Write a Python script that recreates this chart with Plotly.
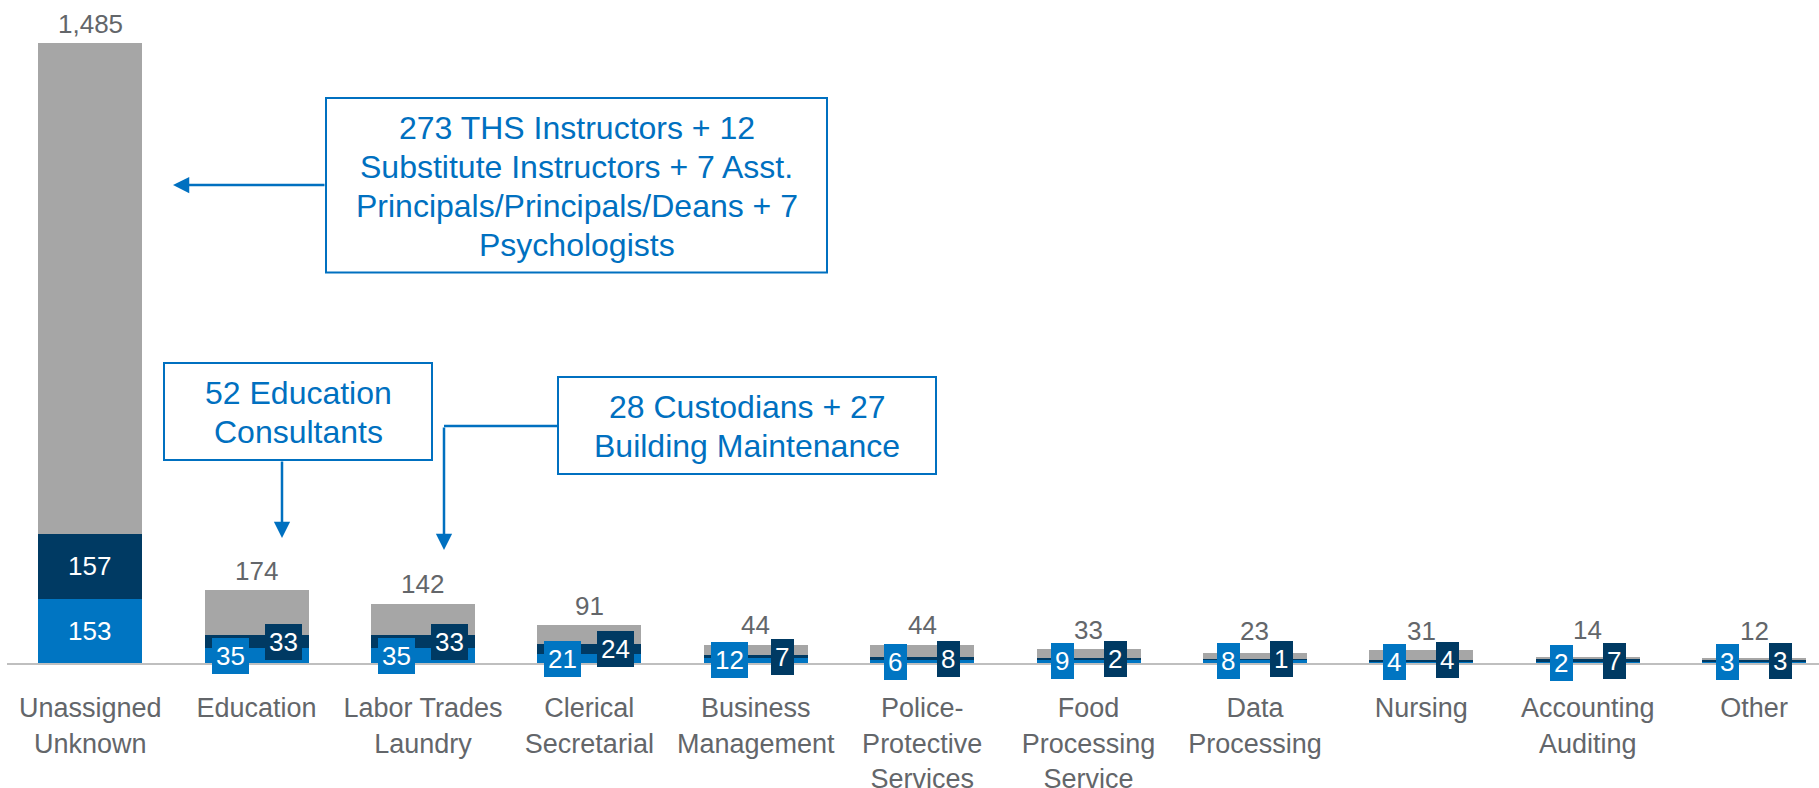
import plotly.graph_objects as go

# ---------------- data ----------------
categories = [
    "Unassigned<br>Unknown", "Education", "Labor Trades<br>Laundry",
    "Clerical<br>Secretarial", "Business<br>Management",
    "Police-<br>Protective<br>Services", "Food<br>Processing<br>Service",
    "Data<br>Processing", "Nursing", "Accounting<br>Auditing", "Other",
]
blue_vals = [153, 35, 35, 21, 12, 6, 9, 8, 4, 2, 3]
navy_vals = [157, 33, 33, 24, 7, 8, 2, 1, 4, 7, 3]
totals = [1485, 174, 142, 91, 44, 44, 33, 23, 31, 14, 12]
gray_vals = [t - b - n for t, b, n in zip(totals, blue_vals, navy_vals)]

callout_lines = [
    ["273 THS Instructors + 12", "Substitute Instructors + 7 Asst.",
     "Principals/Principals/Deans + 7", "Psychologists"],
    ["52 Education", "Consultants"],
    ["28 Custodians + 27", "Building Maintenance"],
]

# ---------------- style ----------------
BLUE = "#0075C2"
NAVY = "#003A63"
GRAY = "#A6A6A6"
TXT = "#63666A"
CALL = "#0070C0"
FONT = "Liberation Sans, Arial, sans-serif"

W, H = 1819, 788
ML, MR, MT, MB = 7, 0, 0, 125
PW, PH = W - ML - MR, H - MT - MB
YMAX = 1588

fig = go.Figure()
for name, vals, col in [("blue", blue_vals, BLUE), ("navy", navy_vals, NAVY), ("gray", gray_vals, GRAY)]:
    fig.add_trace(go.Bar(x=categories, y=vals, name=name, marker=dict(color=col, line=dict(width=0)),
                         width=0.625, hoverinfo="skip"))

ann = []
px_per_unit = PH / YMAX
for i, c in enumerate(categories):
    b, n = blue_vals[i], navy_vals[i]
    small = (b * px_per_unit < 36) or (n * px_per_unit < 36)
    for val, base, col, sh in [(b, 0, BLUE, -26.5), (n, b, NAVY, 26.5)]:
        s = str(val)
        ann.append(dict(x=c, y=base + val / 2, text=s, showarrow=False,
                        xshift=sh if small else 0, yanchor="middle",
                        font=dict(size=26, color="white", family=FONT),
                        width=len(s) * 14.5 + 2, height=30,
                        bgcolor=col, borderpad=3, borderwidth=0))
    h = totals[i] * px_per_unit
    ann.append(dict(x=c, y=totals[i], text=f"{totals[i]:,}", showarrow=False,
                    yanchor="middle", yshift=max(19.5, 32.5 - h),
                    font=dict(size=26, color=TXT, family=FONT)))


def px(x):
    return (x - ML) / PW


def py(y):
    return (MT + PH - y) / PH


boxes = [(326, 98, 827, 272.5), (164, 363, 432, 460), (558, 377, 936, 474)]
LINE_GAP = 39
shapes = []
for (x0, y0, x1, y1), lines in zip(boxes, callout_lines):
    shapes.append(dict(type="rect", xref="paper", yref="paper", x0=px(x0), x1=px(x1), y0=py(y1), y1=py(y0),
                       line=dict(color=CALL, width=2), fillcolor="white", layer="above"))
    cy = (y0 + y1) / 2 + 1
    nl = len(lines)
    for k, line in enumerate(lines):
        ann.append(dict(xref="paper", yref="paper", x=px((x0 + x1) / 2),
                        y=py(cy + (k - (nl - 1) / 2) * LINE_GAP), text=line,
                        showarrow=False, xanchor="center", yanchor="middle", align="center",
                        font=dict(size=32, color=CALL, family=FONT)))

shapes.append(dict(type="line", xref="paper", yref="paper", x0=px(558), x1=px(444), y0=py(426), y1=py(426),
                   line=dict(color=CALL, width=2.5)))

arrows = [(173, 185, 153, 0), (282, 538, 0, -78), (444, 550, 0, -124)]
for x, y, ax, ay in arrows:
    ann.append(dict(xref="paper", yref="paper", x=px(x), y=py(y), ax=ax, ay=ay, text="",
                    showarrow=True, arrowhead=2, arrowsize=1.3, arrowwidth=2.5, arrowcolor=CALL, standoff=0))

fig.update_layout(
    width=W, height=H, barmode="stack", showlegend=False,
    margin=dict(l=ML, r=MR, t=MT, b=MB, autoexpand=False),
    plot_bgcolor="white", paper_bgcolor="white",
    font=dict(family=FONT, color=TXT),
    xaxis=dict(type="category", range=[-0.5, 10.39], showline=True, linecolor="#BFBFBF", linewidth=2,
               showgrid=False, ticks="", tickangle=0, tickfont=dict(size=27, color=TXT, family=FONT),
               ticklabelstandoff=20, automargin=False, fixedrange=True),
    yaxis=dict(range=[0, YMAX], visible=False, showgrid=False, zeroline=False, fixedrange=True,
               automargin=False),
    annotations=ann, shapes=shapes,
)

fig.write_html("out.html", config={"displayModeBar": False},
               post_script="document.body.style.margin='0';document.body.style.overflow='hidden';")
